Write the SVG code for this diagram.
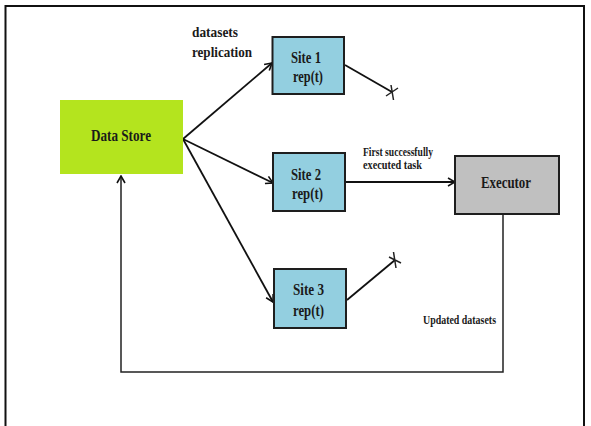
<svg xmlns="http://www.w3.org/2000/svg" width="591" height="426" viewBox="0 0 591 426">
  <style>
    .frame { fill: #ffffff; stroke: #111111; stroke-width: 2; }
    .box { stroke: #1e1e1e; stroke-width: 2; }
    .store { fill: #b4e41e; stroke: none; }
    .site { fill: #93cfe0; }
    .exec { fill: #c0c0c0; }
    .lbl { font-family: "Liberation Serif", "Times New Roman", serif; font-weight: bold; fill: #1a1a1a; }
    .big { font-size: 17px; }
    .mid { font-size: 14.5px; }
    .small { font-size: 11.5px; }
    .wire { fill: none; stroke: #111111; stroke-width: 1.8; }
    .thin { fill: none; stroke: #222222; stroke-width: 1.5; }
  </style>
  <defs>
    <marker id="open" viewBox="0 0 10 10" refX="9" refY="5" markerWidth="10" markerHeight="10" markerUnits="userSpaceOnUse" orient="auto">
      <path d="M2,1 L9,5 L2,9" fill="none" stroke="#111111" stroke-width="1.6"/>
    </marker>
  </defs>

  <!-- page frame -->
  <rect class="frame" x="5.5" y="6" width="578.5" height="430"/>

  <!-- connectors -->
  <g id="connectors">
    <line class="wire" x1="183" y1="139" x2="272" y2="63" marker-end="url(#open)"/>
    <line class="wire" x1="183" y1="139" x2="273" y2="183" marker-end="url(#open)"/>
    <line class="wire" x1="183" y1="139" x2="273" y2="302" marker-end="url(#open)"/>
    <line class="wire" x1="345" y1="182" x2="455" y2="182" marker-end="url(#open)" stroke-width="2.4"/>
    <polyline class="thin" points="503,214 503,372 121,372 121,176" marker-end="url(#open)"/>
    <!-- failed transfers from sites 1 and 3 -->
    <line class="wire" x1="345" y1="65" x2="392" y2="92"/>
    <path class="thin" d="M391,85 L393.5,100 M386,96 L398,88"/>
    <line class="wire" x1="347" y1="300" x2="395" y2="260"/>
    <path class="thin" d="M393.5,252 L396,268 M389,257 L401,263"/>
  </g>

  <!-- labels on connectors -->
  <g id="edge-labels">
    <text class="lbl mid" x="192" y="37" textLength="46" lengthAdjust="spacingAndGlyphs">datasets</text>
    <text class="lbl mid" x="192" y="57" textLength="60" lengthAdjust="spacingAndGlyphs">replication</text>
    <text class="lbl small" x="363" y="155.5" textLength="70" lengthAdjust="spacingAndGlyphs">First successfully</text>
    <text class="lbl small" x="363" y="169" textLength="59" lengthAdjust="spacingAndGlyphs">executed task</text>
    <text class="lbl small" x="423" y="324" textLength="73" lengthAdjust="spacingAndGlyphs">Updated datasets</text>
  </g>

  <g id="data-store">
    <rect class="store" x="60" y="100" width="123" height="74"/>
    <text class="lbl big" x="91" y="141" textLength="60" lengthAdjust="spacingAndGlyphs">Data Store</text>
  </g>

  <g id="site-1">
    <rect class="box site" x="272.5" y="37" width="71.5" height="57"/>
    <text class="lbl big" x="291" y="63" textLength="30" lengthAdjust="spacingAndGlyphs">Site 1</text>
    <text class="lbl big" x="293" y="82" textLength="30" lengthAdjust="spacingAndGlyphs">rep(t)</text>
  </g>

  <g id="site-2">
    <rect class="box site" x="273" y="153" width="72" height="58"/>
    <text class="lbl big" x="291" y="180" textLength="30" lengthAdjust="spacingAndGlyphs">Site 2</text>
    <text class="lbl big" x="292" y="199" textLength="31" lengthAdjust="spacingAndGlyphs">rep(t)</text>
  </g>

  <g id="site-3">
    <rect class="box site" x="274" y="269" width="72" height="59"/>
    <text class="lbl big" x="293" y="295" textLength="31" lengthAdjust="spacingAndGlyphs">Site 3</text>
    <text class="lbl big" x="293" y="316" textLength="31" lengthAdjust="spacingAndGlyphs">rep(t)</text>
  </g>

  <g id="executor">
    <rect class="box exec" x="455" y="156" width="104" height="58"/>
    <text class="lbl big" x="481" y="188" textLength="50" lengthAdjust="spacingAndGlyphs">Executor</text>
  </g>
</svg>
